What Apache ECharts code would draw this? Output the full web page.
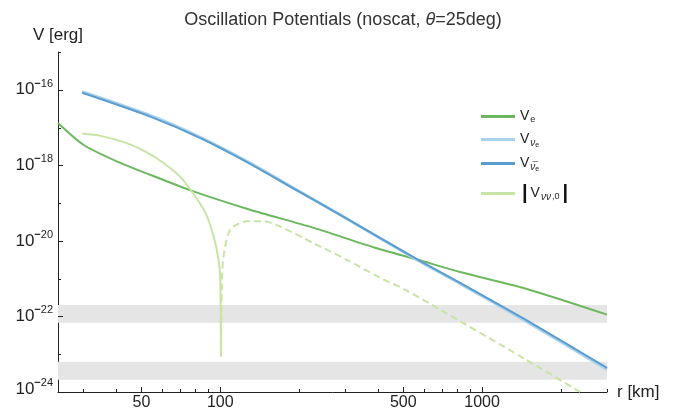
<!DOCTYPE html>
<html>
<head>
<meta charset="utf-8">
<script src="https://cdn.jsdelivr.net/npm/echarts@6/dist/echarts.min.js"></script>
<style>
html, body { margin: 0; padding: 0; background: #fff; }
#main { width: 686px; height: 409px; }
</style>
</head>
<body>
<div id="main"></div>
<script>
const font = "'Liberation Sans', Helvetica, Arial, sans-serif";
const rMin = 24, rMax = 3000, vMin = 1e-24, vMax = 1e-15;

// V_e
const rVe = [24, 30, 40.4, 54, 79, 130, 226, 390, 570, 824, 1460, 3000];
const vVe = [1.32e-17, 3.51e-18, 1.26e-18, 5.62e-19, 2.04e-19, 6.68e-20, 2.24e-20, 6.61e-21, 3.16e-21, 1.50e-21, 5.5e-22, 1.12e-22];

// V_nu_e and V_nubar_e
const rNu = [29.7, 54, 84, 130, 185, 287, 570, 824, 1460, 3000];
const vNue = [8.91e-17, 2.09e-17, 5.50e-18, 1.15e-18, 2.82e-19, 4.90e-20, 3.02e-21, 7.41e-22, 7.76e-23, 3.98e-24];
const vNuebar = [8.32e-17, 1.95e-17, 5.25e-18, 1.10e-18, 2.75e-19, 4.90e-20, 3.16e-21, 7.76e-22, 8.32e-23, 4.37e-24];

// |V_nunu,0| : positive part (solid) and negative part (dashed)
const rNnPos = [29.7, 34.8, 43.4, 51.8, 60.5, 70.3, 78, 87.7, 94.3, 98.5, 100, 100.6];
const vNnPos = [6.92e-18, 6.03e-18, 3.98e-18, 2.29e-18, 1.17e-18, 5.01e-19, 2.00e-19, 5.62e-20, 1.32e-20, 3.16e-21, 9.33e-22, 8.71e-24];
const rNnNeg = [100.6, 101.5, 102.9, 109.2, 126.4, 146.3, 169.4, 227, 304.5, 408, 508, 692, 1460, 2370];
const vNnNeg = [8.71e-24, 9.33e-22, 3.89e-21, 2.00e-20, 3.31e-20, 3.31e-20, 2.40e-20, 8.71e-21, 3.16e-21, 1.05e-21, 5.13e-22, 1.51e-22, 7.41e-24, 1.0e-24];

// grey bands
const bandLow = [2.1e-24, 6.8e-23];
const bandHigh = [6.3e-24, 2.0e-22];

// ticks
const xTicks = [30, 40, 50, 60, 70, 80, 90, 100, 200, 300, 400, 500, 600, 700, 800, 900, 1000, 2000, 3000];
const xLabelled = [50, 100, 500, 1000];
const yTicks = [1e-24, 1e-23, 1e-22, 1e-21, 1e-20, 1e-19, 1e-18, 1e-17, 1e-16, 1e-15];
const yLabelledExp = [-24, -22, -20, -18, -16];

const names = ['Ve', 'Vnue', 'Vnuebar', 'Vnunu0'];
const legendText = {
  Ve: '{v|V}{s|e}',
  Vnue: '{v|V}{si|ν}{ss|e}',
  Vnuebar: '{v|V}{si|ν̅}{ss|e}',
  Vnunu0: '{bl||}{v|V}{si|νν}{s|,0}{br||}'
};
const legendRows = [116, 139, 163, 190];

const pairs = (xs, ys) => xs.map((x, i) => [x, ys[i]]);

function xTickItem(params, api) {
  const v = api.value(0);
  const p = api.coord([v, vMin]);
  const major = xLabelled.indexOf(v) >= 0;
  const x = Math.round(p[0]) + 0.5;
  const children = [{
    type: 'line',
    shape: { x1: x, y1: p[1], x2: x, y2: p[1] - (major ? 5 : 3) },
    style: { stroke: '#222', lineWidth: 1 }
  }];
  if (major) {
    children.push({
      type: 'text',
      style: { text: String(v), x: p[0], y: p[1] + 11, align: 'center', verticalAlign: 'middle',
        fontSize: 16, fontFamily: font, fill: '#222' }
    });
  }
  return { type: 'group', children: children };
}

function yTickItem(params, api) {
  const v = api.value(1);
  const p = api.coord([rMin, v]);
  const e = Math.round(Math.log10(v));
  const major = yLabelledExp.indexOf(e) >= 0;
  const y = Math.round(p[1]) + 0.5;
  const children = [{
    type: 'line',
    shape: { x1: p[0], y1: y, x2: p[0] + (major ? 5 : 3), y2: y },
    style: { stroke: '#222', lineWidth: 1 }
  }];
  if (major) {
    children.push({
      type: 'text',
      style: {
        text: '{b|10}{m|−}{s|' + (-e) + '}',
        x: p[0] - 5, y: p[1] - (e === -24 ? 3 : 0), align: 'right', verticalAlign: 'middle',
        rich: {
          b: { fontSize: 17, fontFamily: font, fill: '#222' },
          m: { fontSize: 11, fontFamily: font, fontWeight: 'bold', fill: '#222', padding: [0, 0, 12, 0] },
          s: { fontSize: 11, fontFamily: font, fill: '#222', padding: [0, 0, 12, 0] }
        }
      }
    });
  }
  return { type: 'group', children: children };
}

function bandItem(params, api) {
  const a = api.coord([rMin, api.value(2)]);
  const b = api.coord([rMax, api.value(1)]);
  return { type: 'rect', shape: { x: a[0], y: a[1], width: b[0] - a[0], height: b[1] - a[1] },
    style: { fill: '#e5e5e5' } };
}

const lineBase = { type: 'line', showSymbol: false, symbol: 'none', smooth: 0.25, silent: true };

const option = {
  animation: false,
  backgroundColor: '#fff',
  title: {
    text: '{n|Oscillation Potentials (noscat, }{i|θ}{n|=25deg)}',
    left: 'center', top: 6,
    textStyle: {
      fontWeight: 'normal',
      rich: {
        n: { fontSize: 18, fontFamily: font, color: '#333', fontWeight: 'normal' },
        i: { fontSize: 18, fontFamily: font, color: '#333', fontStyle: 'italic', fontWeight: 'normal' }
      }
    }
  },
  grid: { left: 58, right: 79, top: 52, bottom: 17 },
  xAxis: {
    type: 'log', logBase: 10, min: rMin, max: rMax,
    axisLine: { lineStyle: { color: '#222', width: 1 } },
    axisTick: { show: false }, axisLabel: { show: false }, splitLine: { show: false },
    name: 'r [km]', nameLocation: 'end', nameGap: 10,
    nameTextStyle: { fontSize: 17, fontFamily: font, color: '#222' }
  },
  yAxis: {
    type: 'log', logBase: 10, min: vMin, max: vMax,
    axisLine: { show: true, lineStyle: { color: '#222', width: 1 } },
    axisTick: { show: false }, axisLabel: { show: false }, splitLine: { show: false },
    name: 'V [erg]', nameLocation: 'end', nameGap: 8,
    nameTextStyle: { fontSize: 17, fontFamily: font, color: '#222' }
  },
  legend: names.map((n, i) => ({
    data: [{ name: n, icon: 'rect' }], orient: 'vertical', left: 476, top: legendRows[i] - 11.5,
    itemWidth: 34, itemHeight: 3, selectedMode: false,
    formatter: name => legendText[name],
    textStyle: {
      rich: {
        v: { fontSize: 14, fontFamily: font, color: '#222' },
        s: { fontSize: 9, fontFamily: font, color: '#222', padding: [7, 0, 0, 1] },
        si: { fontSize: 10, fontFamily: font, color: '#222', fontStyle: 'italic', padding: [7, 0, 0, 1] },
        ss: { fontSize: 7, fontFamily: font, color: '#222', padding: [12, 0, 0, 0] },
        bl: { fontSize: 20, fontFamily: font, color: '#111', fontWeight: 'bold', padding: [0, 3, 0, 2] },
        br: { fontSize: 20, fontFamily: font, color: '#111', fontWeight: 'bold', padding: [0, 0, 0, 3] }
      }
    }
  })),
  series: [
    { type: 'custom', renderItem: bandItem, data: bandLow.map((v, i) => [rMin, v, bandHigh[i]]),
      encode: { x: 0, y: [1, 2] }, silent: true, z: 1 },
    Object.assign({}, lineBase, { name: 'Ve', data: pairs(rVe, vVe), z: 3,
      lineStyle: { color: '#6cb85f', width: 2 }, itemStyle: { color: '#6cb85f' } }),
    Object.assign({}, lineBase, { name: 'Vnue', data: pairs(rNu, vNue), z: 3,
      lineStyle: { color: '#aad2ea', width: 3 }, itemStyle: { color: '#aad2ea' } }),
    Object.assign({}, lineBase, { name: 'Vnuebar', data: pairs(rNu, vNuebar), z: 4,
      lineStyle: { color: '#5b9dd0', width: 2 }, itemStyle: { color: '#5b9dd0' } }),
    Object.assign({}, lineBase, { name: 'Vnunu0', data: pairs(rNnPos, vNnPos), z: 3,
      lineStyle: { color: '#c6e5a6', width: 2 }, itemStyle: { color: '#c6e5a6' } }),
    Object.assign({}, lineBase, { name: 'Vnunu0', data: pairs(rNnNeg, vNnNeg), z: 3,
      lineStyle: { color: '#c6e5a6', width: 2, type: [7, 4] }, itemStyle: { color: '#c6e5a6' } }),
    { type: 'custom', renderItem: xTickItem, data: xTicks.map(v => [v, vMin]), clip: false, silent: true, z: 5 },
    { type: 'custom', renderItem: yTickItem, data: yTicks.map(v => [rMin, v]), clip: false, silent: true, z: 5 }
  ]
};

const chart = echarts.init(document.getElementById('main'));
chart.setOption(option);
</script>
</body>
</html>
